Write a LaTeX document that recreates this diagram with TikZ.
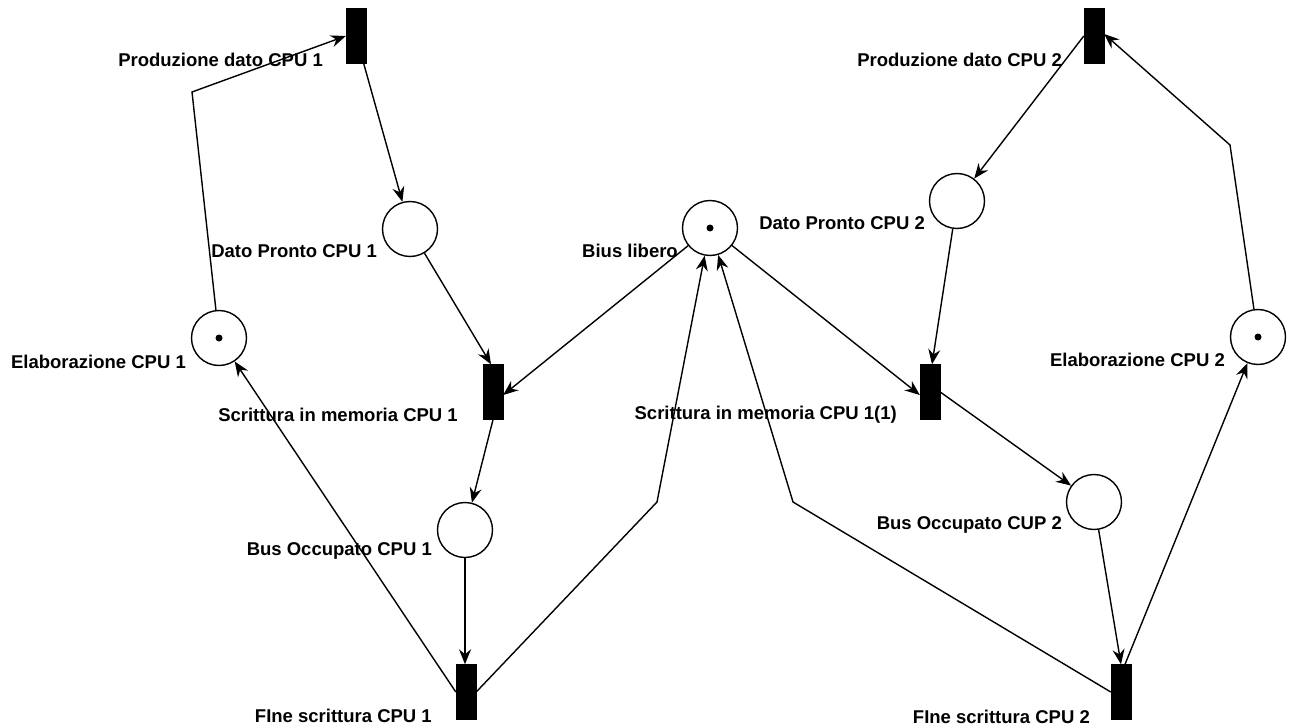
\documentclass[tikz,border=0pt]{standalone}
\usepackage{fontspec}
\setmainfont{Liberation Sans}
\usetikzlibrary{arrows.meta,calc}
\begin{document}
\begin{tikzpicture}[x=1pt,y=-1pt,
  place/.style={circle,draw,line width=1.4pt,minimum size=55pt,inner sep=0pt,fill=white},
  trans/.style={rectangle,fill=black,draw=black,minimum width=20pt,minimum height=55pt,inner sep=0pt},
  token/.style={circle,fill=black,minimum size=7pt,inner sep=0pt},
  lbl/.style={anchor=east,inner sep=0pt,font=\fontsize{18.5}{21}\selectfont\bfseries},
  arc/.style={line width=1.4pt,-{Stealth[length=15pt,width=12pt,inset=5pt]}},
  line join=miter]
\useasboundingbox (0,0) rectangle (1289,727);
% places
\node[place] (P1) at (410,229) {};
\node[place] (P2) at (219,338) {};
\node[token] (K2) at (219,338) {};
\node[place] (P3) at (465,530) {};
\node[place] (P4) at (710,228) {};
\node[token] (K4) at (710,228) {};
\node[place] (P5) at (957,201) {};
\node[place] (P6) at (1258,337) {};
\node[token] (K6) at (1258,337) {};
\node[place] (P7) at (1094,502) {};
% transitions
\node[trans] (T1) at (356,36) {};
\node[trans] (T2) at (493,392) {};
\node[trans] (T3) at (466,692) {};
\node[trans] (T4) at (1094,36) {};
\node[trans] (T5) at (930,392) {};
\node[trans] (T6) at (1121,692) {};
% bend points
\coordinate (B1) at (192,92);
\coordinate (B2) at (657,502);
\coordinate (B3) at (793,502);
\coordinate (B4) at (1230,145);
% arcs
\draw[arc] (P2) -- (B1) -- (T1.west);
\draw[arc] (T1) -- (P1);
\draw[arc] (P1) -- ([xshift=-2pt]T2.north);
\draw[arc] (P4) -- ([yshift=-3pt]T2.east);
\draw[arc] (T2.south) -- (P3);
\draw[arc] (P3.south) -- (P3.south |- T3.north);
\draw[arc] (T3.west) -- (P2);
\draw[arc] (T3.east) -- (B2) -- (P4);
\draw[arc] (T6.west) -- (B3) -- (P4);
\draw[arc] (P4) -- ([yshift=-3pt]T5.west);
\draw[arc] (T4.west) -- (P5);
\draw[arc] (P5) -- ([xshift=2pt]T5.north);
\draw[arc] (T5.east) -- (P7);
\draw[arc] (P7) -- (T6.north);
\draw[arc] ([xshift=4pt]T6.north) -- (P6);
\draw[arc] (P6) -- (B4) -- ([yshift=2pt]T4.east);
% labels
\node[lbl] (L1) at (323,60) {Produzione dato CPU 1};
\node[lbl] (L2) at (377,251) {Dato Pronto CPU 1};
\node[lbl] (L3) at (186,362) {Elaborazione CPU 1};
\node[lbl] (L4) at (458,415) {Scrittura in memoria CPU 1};
\node[lbl] (L5) at (432,551) {Bus Occupato CPU 1};
\node[lbl] (L6) at (432,716) {FIne scrittura CPU 1};
\node[lbl] (L7) at (678,251) {Bius libero};
\node[lbl] (L8) at (925,223) {Dato Pronto CPU 2};
\node[lbl] (L9) at (897,415) {Scrittura in memoria CPU 1(1)};
\node[lbl] (L10) at (1062,60) {Produzione dato CPU 2};
\node[lbl] (L11) at (1225,360) {Elaborazione CPU 2};
\node[lbl] (L12) at (1062,525) {Bus Occupato CUP 2};
\node[lbl] (L13) at (1090,717) {FIne scrittura CPU 2};
\end{tikzpicture}
\end{document}
